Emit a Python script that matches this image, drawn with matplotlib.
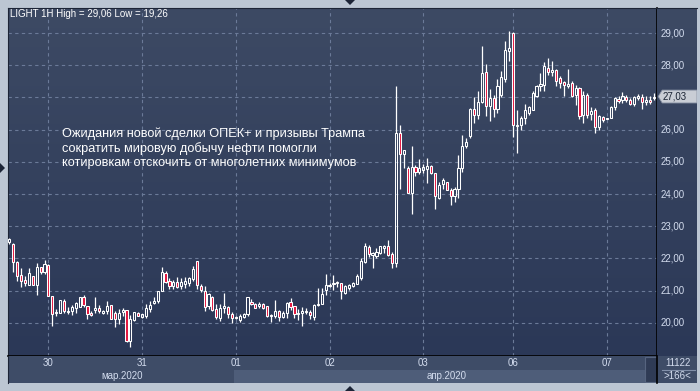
import numpy as np
import matplotlib.pyplot as plt
import matplotlib.transforms as mtransforms
from matplotlib.patches import Rectangle, Polygon
from matplotlib.colors import LinearSegmentedColormap

plt.rcParams['font.family'] = ['Liberation Sans', 'DejaVu Sans']

# hourly candles, 27 Mar 14:00 .. 07 Apr
opens = [22.50, 22.45, 21.90, 21.48, 21.34, 21.19, 21.44, 21.19, 21.72, 21.58,
         21.79, 20.82, 20.30, 20.32, 20.67, 20.35, 20.36, 20.47, 20.50, 20.81,
         20.53, 20.32, 20.40, 20.47, 20.32, 20.37, 20.55, 20.30, 20.12, 20.34,
         20.39, 19.44, 20.10, 20.32, 20.18, 20.21, 20.44, 20.62, 20.68, 20.99,
         21.56, 21.30, 21.15, 21.26, 21.13, 21.22, 21.25, 21.35, 21.91, 21.15,
         20.99, 20.53, 20.81, 20.42, 20.16, 20.45, 20.49, 20.29, 20.14, 20.08,
         20.18, 20.27, 20.66, 20.60, 20.53, 20.58, 20.51, 20.20, 20.20, 20.36,
         20.18, 20.31, 20.64, 20.51, 20.27, 20.31, 20.33, 20.35, 20.18, 20.55,
         20.60, 21.03, 21.15, 21.21, 21.23, 21.23, 20.94, 21.09, 21.15, 21.21,
         21.39, 21.90, 22.36, 22.11, 22.07, 22.18, 22.34, 22.38, 22.14, 21.87,
         25.90, 25.23, 24.80, 24.02, 24.84, 24.70, 24.74, 24.77, 24.86, 24.67,
         23.89, 24.30, 24.39, 24.12, 23.94, 24.15, 24.82, 25.49, 25.80, 26.63,
         26.45, 26.86, 27.79, 26.73, 26.99, 26.63, 27.07, 27.59, 28.43, 29.00,
         26.11, 26.16, 26.35, 26.53, 26.62, 27.06, 27.35, 27.40, 27.92, 27.78,
         27.84, 27.61, 27.47, 27.37, 27.45, 27.09, 27.30, 26.47, 27.09, 26.50,
         26.62, 26.08, 26.39, 26.33, 26.36, 26.70, 26.95, 26.91, 27.02, 26.93,
         26.81, 26.98, 27.02, 26.87, 26.93, 26.97]
highs = [22.65, 22.47, 21.93, 21.69, 21.46, 21.69, 21.46, 21.86, 21.75, 21.96,
         21.82, 20.82, 20.42, 20.72, 20.74, 20.48, 20.55, 20.65, 20.81, 20.86,
         20.53, 20.37, 20.79, 20.55, 20.41, 20.67, 20.55, 20.37, 20.43, 20.45,
         20.39, 20.24, 20.34, 20.34, 20.29, 20.60, 20.68, 20.79, 20.99, 21.75,
         21.62, 21.39, 21.33, 21.41, 21.39, 21.41, 21.43, 21.77, 21.91, 21.22,
         21.15, 20.94, 20.84, 20.58, 20.58, 20.94, 20.53, 20.35, 20.20, 20.27,
         20.32, 20.81, 20.73, 20.63, 20.66, 20.63, 20.53, 20.26, 20.72, 20.41,
         20.36, 20.64, 20.76, 20.53, 20.43, 20.49, 20.46, 20.41, 20.57, 21.08,
         21.08, 21.52, 21.23, 21.49, 21.31, 21.25, 21.18, 21.21, 21.28, 21.52,
         22.00, 22.49, 22.41, 22.21, 22.31, 22.38, 22.41, 22.57, 22.21, 27.35,
         26.16, 25.36, 24.87, 25.49, 24.90, 25.08, 24.92, 25.11, 24.90, 24.67,
         24.36, 24.49, 24.39, 24.20, 24.22, 25.21, 25.85, 25.75, 26.68, 27.01,
         27.21, 28.59, 28.04, 27.25, 27.09, 27.56, 27.81, 28.76, 29.06, 29.02,
         26.60, 26.42, 26.80, 26.75, 27.19, 27.40, 27.76, 28.09, 28.23, 28.12,
         27.87, 27.66, 27.50, 27.89, 27.50, 27.40, 27.33, 27.19, 27.14, 26.70,
         26.67, 26.47, 26.44, 26.37, 26.75, 27.02, 27.06, 27.16, 27.09, 26.98,
         27.04, 27.12, 27.12, 27.04, 27.06, 27.14]
lows = [22.45, 21.59, 21.31, 21.10, 21.15, 21.19, 21.19, 20.88, 21.53, 21.51,
        20.82, 19.91, 20.20, 20.32, 20.32, 20.27, 20.24, 20.32, 20.50, 20.50,
        20.12, 20.20, 20.30, 20.32, 20.27, 20.27, 20.11, 19.86, 19.96, 20.20,
        19.39, 19.26, 20.06, 20.21, 20.16, 20.16, 20.35, 20.58, 20.63, 20.99,
        21.25, 21.04, 21.04, 21.08, 21.04, 21.08, 21.15, 21.30, 21.04, 20.97,
        20.37, 20.42, 20.37, 20.11, 20.06, 20.32, 20.16, 20.00, 20.11, 20.04,
        20.14, 20.21, 20.56, 20.45, 20.45, 20.42, 20.18, 20.02, 20.15, 20.05,
        20.15, 20.15, 20.41, 20.15, 20.10, 19.90, 20.26, 20.12, 20.08, 20.51,
        20.60, 20.88, 21.11, 21.03, 21.11, 20.74, 20.90, 21.03, 21.11, 21.21,
        21.34, 21.87, 22.03, 21.69, 22.00, 22.14, 22.16, 22.07, 21.69, 21.75,
        24.15, 24.82, 24.02, 23.38, 24.56, 24.63, 24.67, 24.33, 24.61, 23.53,
        23.84, 24.15, 24.12, 23.66, 23.74, 23.89, 24.70, 25.44, 25.75, 26.21,
        26.32, 26.83, 26.42, 26.27, 26.39, 26.52, 27.01, 27.48, 28.12, 25.77,
        25.28, 25.98, 26.18, 26.47, 26.60, 27.02, 27.19, 27.19, 27.71, 27.68,
        27.35, 27.30, 27.04, 27.30, 27.02, 26.78, 26.33, 26.21, 26.36, 26.31,
        25.90, 26.00, 26.23, 26.32, 26.36, 26.60, 26.83, 26.83, 26.85, 26.78,
        26.75, 26.91, 26.64, 26.78, 26.81, 26.93]
closes = [22.60, 21.88, 21.46, 21.31, 21.23, 21.54, 21.19, 21.75, 21.58, 21.82,
          20.82, 20.27, 20.34, 20.70, 20.36, 20.38, 20.48, 20.63, 20.81, 20.55,
          20.27, 20.24, 20.47, 20.37, 20.37, 20.51, 20.13, 20.12, 20.32, 20.41,
          19.44, 20.12, 20.33, 20.22, 20.26, 20.45, 20.55, 20.68, 20.99, 21.58,
          21.28, 21.15, 21.28, 21.10, 21.28, 21.30, 21.38, 21.67, 21.18, 21.01,
          20.49, 20.89, 20.39, 20.18, 20.45, 20.53, 20.27, 20.16, 20.18, 20.21,
          20.29, 20.79, 20.60, 20.47, 20.58, 20.47, 20.20, 20.23, 20.38, 20.18,
          20.31, 20.62, 20.49, 20.26, 20.31, 20.38, 20.38, 20.25, 20.55, 20.60,
          20.90, 21.17, 21.18, 21.25, 21.27, 20.98, 21.15, 21.17, 21.23, 21.46,
          21.93, 22.38, 22.14, 22.18, 22.21, 22.38, 22.38, 22.11, 21.87, 25.89,
          25.23, 25.36, 24.02, 24.84, 24.70, 24.82, 24.84, 24.86, 24.67, 23.94,
          24.28, 24.43, 24.12, 23.94, 24.17, 24.82, 25.49, 25.63, 26.63, 26.47,
          26.86, 27.76, 26.73, 26.99, 26.63, 27.35, 27.63, 28.48, 28.54, 26.16,
          26.16, 26.37, 26.60, 26.69, 27.14, 27.37, 27.42, 27.97, 27.78, 27.84,
          27.50, 27.45, 27.40, 27.43, 27.06, 27.30, 26.44, 27.09, 26.47, 26.57,
          26.08, 26.41, 26.31, 26.36, 26.70, 26.98, 26.88, 27.04, 26.91, 26.81,
          27.02, 27.06, 26.85, 26.91, 26.85, 27.03]

day_labels = ["30", "31", "01", "02", "03", "06", "07"]
day_starts = [10, 34, 58, 82, 106, 129, 153]
month_labels = ["мар.2020", "апр.2020"]
month_starts = [0, 58]
price_ticks = [20, 21, 22, 23, 24, 25, 26, 27, 28, 29]
volume_total = "11122"

W, H = 700, 391
FRAME = "#bcc6d3"
BG_TOP, BG_BOT = "#3d4a64", "#2b3857"
PANEL = "#3e4c67"
TXT = "#d3dcee"
RED = "#e3163f"
GRID = "#6b7a98"


def px_box(x0, y0, x1, y1):
    return [x0 / W, 1 - y1 / H, (x1 - x0) / W, (y1 - y0) / H]


def gradient(axis):
    cmap = LinearSegmentedColormap.from_list("bg", [BG_TOP, BG_BOT])
    axis.imshow(np.linspace(0, 1, 256).reshape(-1, 1), extent=[0, 1, 0, 1],
                transform=axis.transAxes, cmap=cmap, aspect="auto", zorder=0)


n = len(closes)
xlim = (-0.35, n - 0.15)
ylim = (18.97, 29.78)
last = closes[-1]

fig = plt.figure(figsize=(7, 3.91), dpi=100, facecolor=FRAME)

# main price area
ax = fig.add_axes(px_box(8, 8, 657, 356))
gradient(ax)
ax.set_xticks(day_starts)
ax.set_yticks(price_ticks)
ax.grid(color=GRID, linestyle=(0, (3, 3)), lw=0.8, zorder=1)
ax.tick_params(length=0, labelbottom=False, labelleft=False)

bw = 0.55
for i in range(n):
    o, h, l, c = opens[i], highs[i], lows[i], closes[i]
    lo_b, hi_b = min(o, c), max(o, c)
    ax.vlines(i, hi_b, h, color="white", lw=0.9, zorder=3)
    ax.vlines(i, l, lo_b, color="white", lw=0.9, zorder=3)
    ax.add_patch(Rectangle((i - bw / 2, lo_b), bw, max(hi_b - lo_b, 0.03),
                           facecolor=RED if c < o else "none",
                           edgecolor="white", lw=0.75, zorder=4))
ax.set_xlim(*xlim)
ax.set_ylim(*ylim)
for s in ["top", "left"]:
    ax.spines[s].set_color("#1c2436")
for s in ["right", "bottom"]:
    ax.spines[s].set_color("black")
    ax.spines[s].set_linewidth(1.2)

fig.text(10 / W, 1 - 14 / H, "LIGHT 1H High = %s Low = %s" % (
    f"{max(highs):.2f}".replace(".", ","), f"{min(lows):.2f}".replace(".", ",")),
    color="white", fontsize=7, va="center")
fig.text(62 / W, 1 - 127 / H,
         "Ожидания новой сделки ОПЕК+ и призывы Трампа\n"
         "сократить мировую добычу нефти помогли\n"
         "котировкам отскочить от многолетних минимумов",
         color="white", fontsize=9.2, va="top", linespacing=1.25)

# right price scale
ax_r = fig.add_axes(px_box(657, 8, 697, 356))
gradient(ax_r)
ax_r.set_xlim(0, 1)
ax_r.set_ylim(*ylim)
ax_r.set_xticks([])
ax_r.set_yticks([])
for s in ["left", "right", "bottom"]:
    ax_r.spines[s].set_visible(False)
ax_r.spines["top"].set_color("#1c2436")
tr = mtransforms.blended_transform_factory(ax_r.transAxes, ax_r.transData)
for p in price_ticks:
    if abs(p - last) < 0.4:
        continue  # hidden under the last-price marker
    ax_r.text(0.1, p, f"{p:.2f}".replace(".", ","), transform=tr,
              color=TXT, fontsize=7, va="center")
hh = 0.2
ax_r.add_patch(Polygon([(0.03, last), (0.13, last + hh), (1.0, last + hh),
                        (1.0, last - hh), (0.13, last - hh)], closed=True,
                       transform=tr, facecolor="#c9cdd5", edgecolor="#8a93a5",
                       lw=0.6, zorder=5))
ax_r.text(0.15, last, f"{last:.2f}".replace(".", ","), transform=tr,
          color="#1a2333", fontsize=7, va="center", zorder=6)

# date axis
ax_b = fig.add_axes(px_box(8, 356, 657, 383))
ax_b.set_facecolor(PANEL)
ax_b.set_xlim(*xlim)
ax_b.set_ylim(0, 1)
ax_b.set_xticks([])
ax_b.set_yticks([])
for s in ["top", "right", "bottom"]:
    ax_b.spines[s].set_visible(False)
ax_b.spines["left"].set_color("#1c2436")
thumb = xlim[0] + (645 - 8) / 649 * (xlim[1] - xlim[0])
ax_b.add_patch(Rectangle((month_starts[1] - 0.5, 0), thumb - month_starts[1] + 0.5, 0.5,
                         facecolor="#4e5d79", edgecolor="none"))
ax_b.add_patch(Rectangle((thumb, 0.03), xlim[1] - thumb, 0.94,
                         facecolor="#2f3b55", edgecolor="#56647f", lw=0.8))
for d, x in zip(day_labels, day_starts):
    ax_b.text(x, 0.74, d, color=TXT, fontsize=7, ha="center", va="center")
edges = month_starts + [xlim[1]]
for k, m in enumerate(month_labels):
    a = max(edges[k], xlim[0])
    ax_b.text((a + edges[k + 1]) / 2, 0.25, m, color=TXT, fontsize=7,
              ha="center", va="center")

# bottom right info box
ax_i = fig.add_axes(px_box(657, 356, 697, 383))
ax_i.set_facecolor(PANEL)
ax_i.set_xlim(0, 1)
ax_i.set_ylim(0, 1)
ax_i.set_xticks([])
ax_i.set_yticks([])
for s in ["top", "right", "bottom"]:
    ax_i.spines[s].set_visible(False)
ax_i.spines["left"].set_color("black")
ax_i.spines["left"].set_linewidth(1.2)
ax_i.text(0.52, 0.74, volume_total, color=TXT, fontsize=7, ha="center", va="center")
ax_i.plot([0.12, 0.95], [0.5, 0.5], color="#8290aa", lw=0.8)
ax_i.text(0.52, 0.25, f">{n}<", color=TXT, fontsize=7, ha="center", va="center")

# small scroll markers on the frame
for pts in ([(345, 0), (355, 0), (350, 5)],
            [(345, 391), (355, 391), (350, 386)],
            [(0, 163), (0, 173), (5, 168)]):
    fig.add_artist(Polygon([(x / W, 1 - y / H) for x, y in pts], closed=True,
                           transform=fig.transFigure, facecolor="#1c2436",
                           edgecolor="none"))

fig.savefig("out.png", dpi=100, facecolor=FRAME)
